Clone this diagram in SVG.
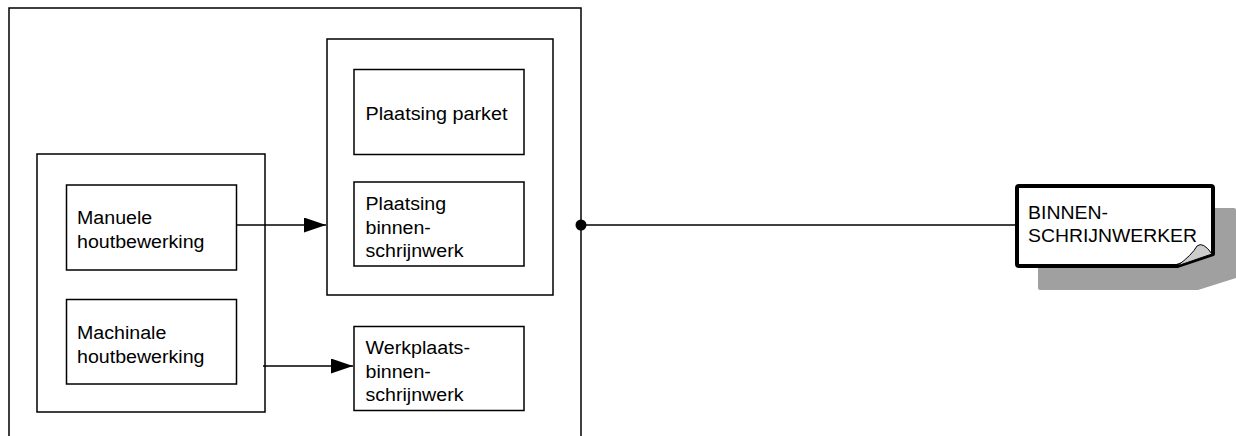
<svg xmlns="http://www.w3.org/2000/svg" width="1236" height="436" viewBox="0 0 1236 436">
<style>
.box{fill:#fff;stroke:#000;stroke-width:1.5}
.frame{fill:none;stroke:#000;stroke-width:1.5}
.lbl{font-family:"Liberation Sans",Arial,sans-serif;font-size:18px;fill:#000}
.edge{fill:none;stroke:#000;stroke-width:1.5}
</style>
<defs>
<marker id="arr" markerUnits="userSpaceOnUse" markerWidth="22" markerHeight="15" refX="22" refY="7.5" orient="auto">
<path d="M0,0 L22,7.5 L0,15 Z" fill="#000"/>
</marker>
</defs>
<rect width="1236" height="436" fill="#fff"/>
<g id="outer-frame">
<rect class="frame" x="9" y="8" width="572" height="440"/>
</g>
<g id="group-plaatsing">
<rect class="box" x="327" y="39" width="226" height="256"/>
</g>
<g id="group-houtbewerking">
<rect class="box" x="37" y="154" width="228" height="258"/>
</g>
<g id="node-plaatsing-parket">
<rect class="box" x="354" y="69.5" width="170" height="85"/>
<text class="lbl" x="365.5" y="119.5" textLength="142" lengthAdjust="spacingAndGlyphs">Plaatsing parket</text>
</g>
<g id="node-plaatsing-binnenschrijnwerk">
<rect class="box" x="354" y="182" width="170" height="84"/>
<text class="lbl" x="365.5" y="209.5" textLength="80.6" lengthAdjust="spacingAndGlyphs">Plaatsing</text>
<text class="lbl" x="365.5" y="233.5" textLength="65.4" lengthAdjust="spacingAndGlyphs">binnen-</text>
<text class="lbl" x="365.5" y="257" textLength="98" lengthAdjust="spacingAndGlyphs">schrijnwerk</text>
</g>
<g id="node-manuele">
<rect class="box" x="66.5" y="185" width="170" height="85"/>
<text class="lbl" x="77" y="223.5" textLength="75.2" lengthAdjust="spacingAndGlyphs">Manuele</text>
<text class="lbl" x="77" y="247.5" textLength="127.5" lengthAdjust="spacingAndGlyphs">houtbewerking</text>
</g>
<g id="node-machinale">
<rect class="box" x="66.5" y="299.5" width="170" height="84.5"/>
<text class="lbl" x="77" y="338.5" textLength="89.3" lengthAdjust="spacingAndGlyphs">Machinale</text>
<text class="lbl" x="77" y="362.5" textLength="127.5" lengthAdjust="spacingAndGlyphs">houtbewerking</text>
</g>
<g id="node-werkplaats">
<rect class="box" x="354" y="326.5" width="170" height="84"/>
<text class="lbl" x="365.5" y="353.5" textLength="104.5" lengthAdjust="spacingAndGlyphs">Werkplaats-</text>
<text class="lbl" x="365.5" y="377.5" textLength="65.4" lengthAdjust="spacingAndGlyphs">binnen-</text>
<text class="lbl" x="365.5" y="401" textLength="98" lengthAdjust="spacingAndGlyphs">schrijnwerk</text>
</g>
<g id="node-binnenschrijnwerker">
<path d="M1040,208 H1234 Q1236,208 1236,210 V278 L1198,290 H1040 Q1038,290 1038,288 V210 Q1038,208 1040,208 Z" fill="#a0a0a0"/>
<path d="M1019,186 H1211 Q1213,186 1213,188 V254 L1177,266 H1019 Q1017,266 1017,264 V188 Q1017,186 1019,186 Z" fill="#fff" stroke="#000" stroke-width="4" stroke-linejoin="round"/>
<path d="M1177,266 Q1192,255 1197,246 Q1203,241 1212,254 Z" fill="#cccccc" stroke="#000" stroke-width="1"/>
<text class="lbl" x="1028" y="218.5" textLength="80" lengthAdjust="spacingAndGlyphs">BINNEN-</text>
<text class="lbl" x="1028" y="242" textLength="169" lengthAdjust="spacingAndGlyphs">SCHRIJNWERKER</text>
</g>
<g id="connectors">
<line class="edge" x1="236.5" y1="225" x2="326" y2="225" marker-end="url(#arr)"/>
<line class="edge" x1="263" y1="366" x2="353" y2="366" marker-end="url(#arr)"/>
<line class="edge" x1="581" y1="225" x2="1016" y2="225"/>
<circle cx="581" cy="225" r="5.5" fill="#000"/>
</g>
</svg>
